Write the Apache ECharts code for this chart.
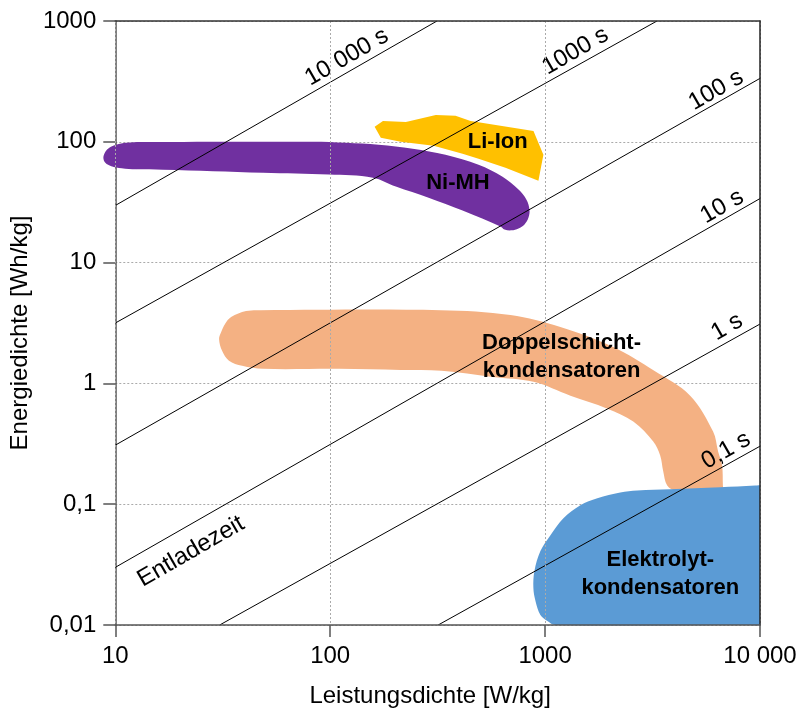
<!DOCTYPE html>
<html><head><meta charset="utf-8">
<script src="https://cdn.jsdelivr.net/npm/echarts@6/dist/echarts.min.js"></script>
<style>html,body{margin:0;padding:0;background:#fff}#c{width:803px;height:713px}</style>
</head><body><div id="c"></div>
<script>
// ---- axes ----
const xTicks = [10, 100, 1000, 10000];
const xTickLabels = ['10', '100', '1000', '10 000'];
const yTicks = [0.01, 0.1, 1, 10, 100, 1000];
const yTickLabels = ['0,01', '0,1', '1', '10', '100', '1000'];
const xName = 'Leistungsdichte [W/kg]';
const yName = 'Energiedichte [Wh/kg]';

// ---- discharge-time lines (Entladezeit), endpoints [P W/kg, E Wh/kg] ----
const timeLabels = ['10 000 s', '1000 s', '100 s', '10 s', '1 s', '0,1 s'];
const lineStartP = [10, 10, 10, 10, 30.6, 318];
const lineStartE = [29.7, 3.16, 0.308, 0.030, 0.01, 0.01];
const lineEndP = [314, 3316, 10000, 10000, 10000, 10000];
const lineEndE = [1000, 1000, 335, 33.9, 3.10, 0.302];
const timeLabelP = [119.5, 1383, 6247, 6661, 7027, 6953];
const timeLabelE = [502, 563, 268, 29.1, 2.93, 0.278];
const entladeText = 'Entladezeit';
const entladeP = 22.5, entladeE = 0.0405;

// ---- regions [P, E] ----
const niMH = [[8.8,73.8],[8.99,82.7],[9.38,89.2],[10.1,94.5],[11.25,98.1],[13.2,99.6],[83.1,100],[118,98.1],[168,94.5],[242,87.6],[344,78.1],[490,64.6],[634,51.4],[752,40.2],[819,33.2],[846,27.5],[837,23.6],[802,20.7],[752,19.2],[698,18.5],[647,18.8],[620,19.9],[413,27.0],[287,34.5],[202,42.6],[158,50.5],[98.6,53.5],[48.7,55.5],[16.7,58.8],[12.5,59.3],[10.7,60.5],[9.58,62.8],[8.99,67.1]];
const liIon = [[161,133],[176,149],[225,146],[310,167],[383,164],[450,149],[883,123],[982,78.1],[931,47.7],[654,61.1],[490,72.4],[413,79.6],[303,92.7],[213,100],[172,108]];
const doppel = [[30.4,2.33],[31.1,2.66],[32.4,3.10],[34.6,3.54],[40.6,3.97],[47.6,4.04],[327,4.04],[690,3.68],[1178,2.93],[2077,2.00],[3220,1.27],[4732,0.79],[6050,0.399],[6383,0.273],[6661,0.209],[6720,0.142],[6732,0.135],[6500,0.1345],[4074,0.130],[3700,0.143],[3545,0.187],[3432,0.253],[3186,0.330],[2572,0.483],[1948,0.618],[1312,0.79],[883,1.03],[569,1.13],[330,1.27],[213,1.29],[110,1.32],[48.7,1.32],[38.9,1.40],[33.8,1.54],[31.4,1.86]];
const elektrolyt = [[10000,0.137],[10000,0.143],[9500,0.1428],[6521,0.138],[3821,0.1327],[2684,0.130],[2238,0.125],[1750,0.112],[1459,0.098],[1217,0.0765],[1059,0.0554],[951,0.0409],[892,0.0280],[882,0.0203],[902,0.0158],[951,0.0121],[1025,0.0108],[1117,0.01],[9000,0.01],[10000,0.01],[10000,0.0106]];

const regionNames = ['Li-Ion', 'Ni-MH', 'Doppelschicht-\nkondensatoren', 'Elektrolyt-\nkondensatoren'];
const regionLabelP = [602, 393, 1193, 3436];
const regionLabelE = [100.6, 45.5, 1.657, 0.0264];

const FONT = '"Liberation Sans", Arial, Helvetica, sans-serif';
const chart = echarts.init(document.getElementById('c'), null, {renderer: 'canvas'});

function fmt(ticks, labels) {
  return v => {
    const i = ticks.findIndex(t => Math.abs(Math.log10(t) - Math.log10(v)) < 1e-6);
    return i >= 0 ? labels[i] : '';
  };
}

function polySeries(name, pts, color, z, smooth) {
  const mid = pts[Math.floor(pts.length / 2)];
  return {
    type: 'custom', name, coordinateSystem: 'cartesian2d', xAxisIndex: 0, yAxisIndex: 0,
    clip: false, z, silent: true,
    data: [[mid[0], mid[1]]],
    renderItem: (params, api) => ({
      type: 'polygon',
      shape: {points: pts.map(p => api.coord(p)), smooth: smooth},
      style: {fill: color, stroke: null}
    })
  };
}

const lineSeries = timeLabels.map((t, i) => ({
  type: 'line', name: t, xAxisIndex: 0, yAxisIndex: 0, z: 5, silent: true,
  symbol: 'none', animation: false,
  lineStyle: {color: '#000', width: 1},
  data: [[lineStartP[i], lineStartE[i]], [lineEndP[i], lineEndE[i]]]
}));

const ROT = 30 * Math.PI / 180;
const timeLabelSeries = {
  type: 'custom', coordinateSystem: 'cartesian2d', z: 6, clip: false, silent: true,
  data: timeLabels.map((t, i) => [timeLabelP[i], timeLabelE[i]]).concat([[entladeP, entladeE]]),
  renderItem: (params, api) => {
    const c = api.coord([api.value(0), api.value(1)]);
    return {
      type: 'text', x: c[0], y: c[1], rotation: ROT,
      style: {text: timeLabels.concat([entladeText])[params.dataIndex], fontSize: 24, fontFamily: FONT,
              fill: '#000', align: 'center', verticalAlign: 'middle'}
    };
  }
};

const regionLabelSeries = {
  type: 'custom', coordinateSystem: 'cartesian2d', z: 7, clip: false, silent: true,
  data: regionNames.map((n, i) => [regionLabelP[i], regionLabelE[i]]),
  renderItem: (params, api) => {
    const c = api.coord([api.value(0), api.value(1)]);
    return {
      type: 'text', x: c[0], y: c[1],
      style: {text: regionNames[params.dataIndex], fontSize: 22, fontWeight: 'bold', fontFamily: FONT,
              fill: '#000', align: 'center', verticalAlign: 'middle', lineHeight: 28}
    };
  }
};

const option = {
  animation: false,
  backgroundColor: '#fff',
  grid: {left: 114, right: 43, top: 21, bottom: 86, containLabel: false},
  xAxis: [{
    type: 'log', logBase: 10, min: 10, max: 10000, position: 'bottom', z: 10,
    name: xName, nameLocation: 'middle', nameGap: 59,
    nameTextStyle: {fontSize: 24, fontFamily: FONT, color: '#000', padding: [0, 15, 0, 0]},
    axisLine: {show: true, lineStyle: {color: '#555', width: 1.5}},
    axisTick: {show: true, inside: false, length: 12, lineStyle: {color: '#555', width: 1.5}},
    minorTick: {show: false},
    axisLabel: {show: true, margin: 19, fontSize: 24, fontFamily: FONT, color: '#000', formatter: fmt(xTicks, xTickLabels)},
    splitLine: {show: true, lineStyle: {color: '#aaa', type: [2, 2], width: 1}}
  }, {
    type: 'log', logBase: 10, min: 10, max: 10000, position: 'top', z: 10,
    axisLine: {show: true, onZero: false, lineStyle: {color: '#333', width: 1.5}},
    axisTick: {show: false}, axisLabel: {show: false}, splitLine: {show: false}
  }],
  yAxis: [{
    type: 'log', logBase: 10, min: 0.01, max: 1000, position: 'left', z: 1,
    name: yName, nameLocation: 'middle', nameGap: 78,
    nameTextStyle: {fontSize: 24, fontFamily: FONT, color: '#000', padding: [0, 20, 0, 0]},
    axisLine: {show: true, lineStyle: {color: '#555', width: 1.5}},
    axisTick: {show: true, inside: false, length: 12, lineStyle: {color: '#555', width: 1.5}},
    axisLabel: {show: true, margin: 19, fontSize: 24, fontFamily: FONT, color: '#000', formatter: fmt(yTicks, yTickLabels)},
    splitLine: {show: true, lineStyle: {color: '#aaa', type: [2, 2], width: 1}}
  }, {
    type: 'log', logBase: 10, min: 0.01, max: 1000, position: 'right', z: 10,
    axisLine: {show: true, onZero: false, lineStyle: {color: '#222', width: 1.5}},
    axisTick: {show: false}, axisLabel: {show: false}, splitLine: {show: false}
  }],
  series: [
    polySeries('Li-Ion', liIon, '#FFC000', 2, 0),
    polySeries('Ni-MH', niMH, '#7030A0', 2, 0.35),
    polySeries('Doppelschichtkondensatoren', doppel, '#F4B183', 2, 0.35),
    polySeries('Elektrolytkondensatoren', elektrolyt, '#5B9BD5', 3, 0.35),
    ...lineSeries,
    timeLabelSeries,
    regionLabelSeries
  ]
};
chart.setOption(option);
</script>
</body></html>
